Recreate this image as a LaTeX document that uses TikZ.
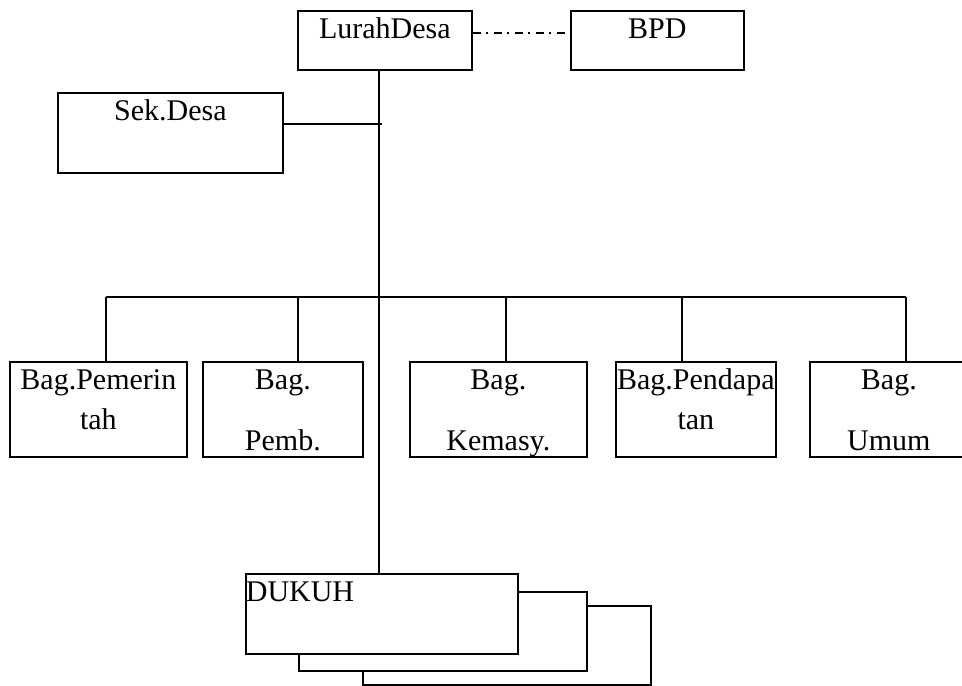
\documentclass[tikz,border=0pt]{standalone}
\usepackage{fontspec}
\setmainfont{Liberation Serif}
\usetikzlibrary{positioning}
\begin{document}
\begin{tikzpicture}[x=0.5pt,y=-0.5pt,line width=0.85pt,
  every node/.style={rectangle,draw,fill=white,inner sep=0pt,anchor=north west,
    align=center,text height=14pt,font=\fontsize{15}{20}\selectfont},
  putus/.style={dash pattern=on 4pt off 2.75pt on 1pt off 2.75pt}]
\useasboundingbox (0,0) rectangle (962,685);
\clip (0,0) rectangle (962,685);
  \node(lurah)[text width=87pt,text depth=15.5pt] at (297,10) {LurahDesa};
  \node(bpd)[text width=86.5pt,text depth=15.5pt] at (570,10) {BPD};
  \node(sek)[text width=112.5pt,text depth=26pt] at (57,92) {Sek.Desa};
%
  \node(pemerintah)[text width=88.5pt,text depth=33.5pt] at (9,361) {Bag.Pemerin\\tah};
  \node(pemb)[text width=80pt,text depth=33.5pt] at (202,361) {Bag.\\[10.5pt]Pemb.};
  \node(kemasy)[text width=88.5pt,text depth=33.5pt] at (409,361) {Bag.\\[10.5pt]Kemasy.};
  \node(pendapatan)[text width=80pt,text depth=33.5pt] at (615,361) {Bag.Pendapa\\tan};
  \node(umum)[text width=79pt,text depth=33.5pt] at (809,361) {Bag.\\[10.5pt]Umum};
%
  \node(dukuhc)[text width=144pt,text depth=25.5pt] at (362,605) {};
  \node(dukuhb)[text width=144pt,text depth=25.5pt] at (298,591) {};
  \node(dukuh)[text width=136pt,text depth=26pt,align=left] at (245,573) {DUKUH};
%
\coordinate(puncak) at ([xshift=-3pt]lurah.south);
\draw(puncak)--(puncak |- dukuh.north);
\draw[putus]([yshift=3.75pt]lurah.east)--([yshift=3.75pt]lurah.east -| bpd.west);
\draw([yshift=4.5pt]sek.east)--++(98,0);
%
\coordinate(b1) at (106,297);
\coordinate(b2) at (298,297);
\coordinate(b3) at (506,297);
\coordinate(b4) at (682,297);
\coordinate(b5) at (906,297);
\draw(b1)--(b5);
\foreach \t/\n in {b1/pemerintah,b2/pemb,b3/kemasy,b4/pendapatan,b5/umum}
  \draw(\t)--(\t |- \n.north);
\end{tikzpicture}
\end{document}
